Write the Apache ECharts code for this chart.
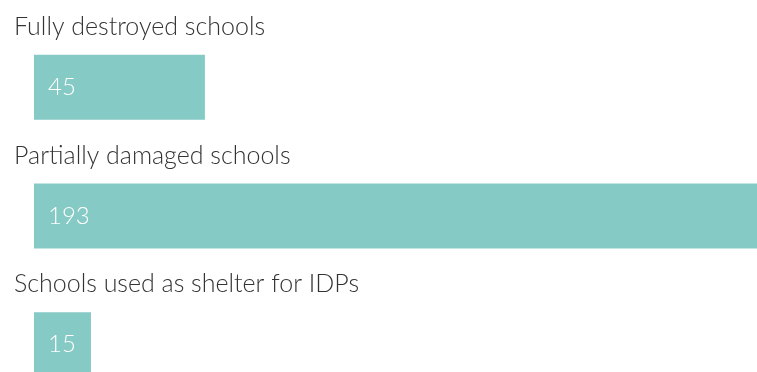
<!DOCTYPE html>
<html>
<head>
<meta charset="utf-8">
<script src="https://cdn.jsdelivr.net/npm/echarts@6/dist/echarts.min.js"></script>
<style>
  html, body { margin: 0; padding: 0; background: #fff; overflow: hidden; width: 757px; height: 372px; }
  /* the canvas runs past the window edge, so the longest bar and the last row are cut off */
  #chart { width: 767px; height: 409px; }
</style>
</head>
<body>
<div id="chart"></div>
<script>
// School damage figures
const categories = ['Fully destroyed schools', 'Partially damaged schools', 'Schools used as shelter for IDPs'];
const schoolCounts = [45, 193, 15];

const barColor = '#86cac5';
const textFont = 'Lato, "Open Sans", sans-serif';

const chart = echarts.init(document.getElementById('chart'), null, { renderer: 'canvas' });

chart.setOption({
  animation: false,
  grid: { left: 34, right: 0, top: 23, bottom: 0 },
  xAxis: {
    type: 'value', min: 0, max: 193,
    show: false
  },
  yAxis: {
    type: 'category', data: categories, inverse: true,
    show: false
  },
  series: [
    {
      type: 'bar',
      data: schoolCounts,
      barWidth: 65,
      itemStyle: { color: barColor },
      label: {
        show: true, position: 'insideLeft', distance: 14,
        color: '#ffffff', fontFamily: textFont, fontWeight: 300, fontSize: 24,
        formatter: '{c}'
      },
      silent: true
    },
    {
      // category titles drawn above each bar
      type: 'bar',
      data: schoolCounts.map(() => 0),
      barWidth: 65,
      barGap: '-100%',
      itemStyle: { color: 'transparent' },
      label: {
        show: true, position: [-20, -28],
        verticalAlign: 'middle', align: 'left',
        color: '#333333', fontFamily: textFont, fontWeight: 300, fontSize: 25,
        formatter: '{b}'
      },
      silent: true
    }
  ]
});
</script>
</body>
</html>
